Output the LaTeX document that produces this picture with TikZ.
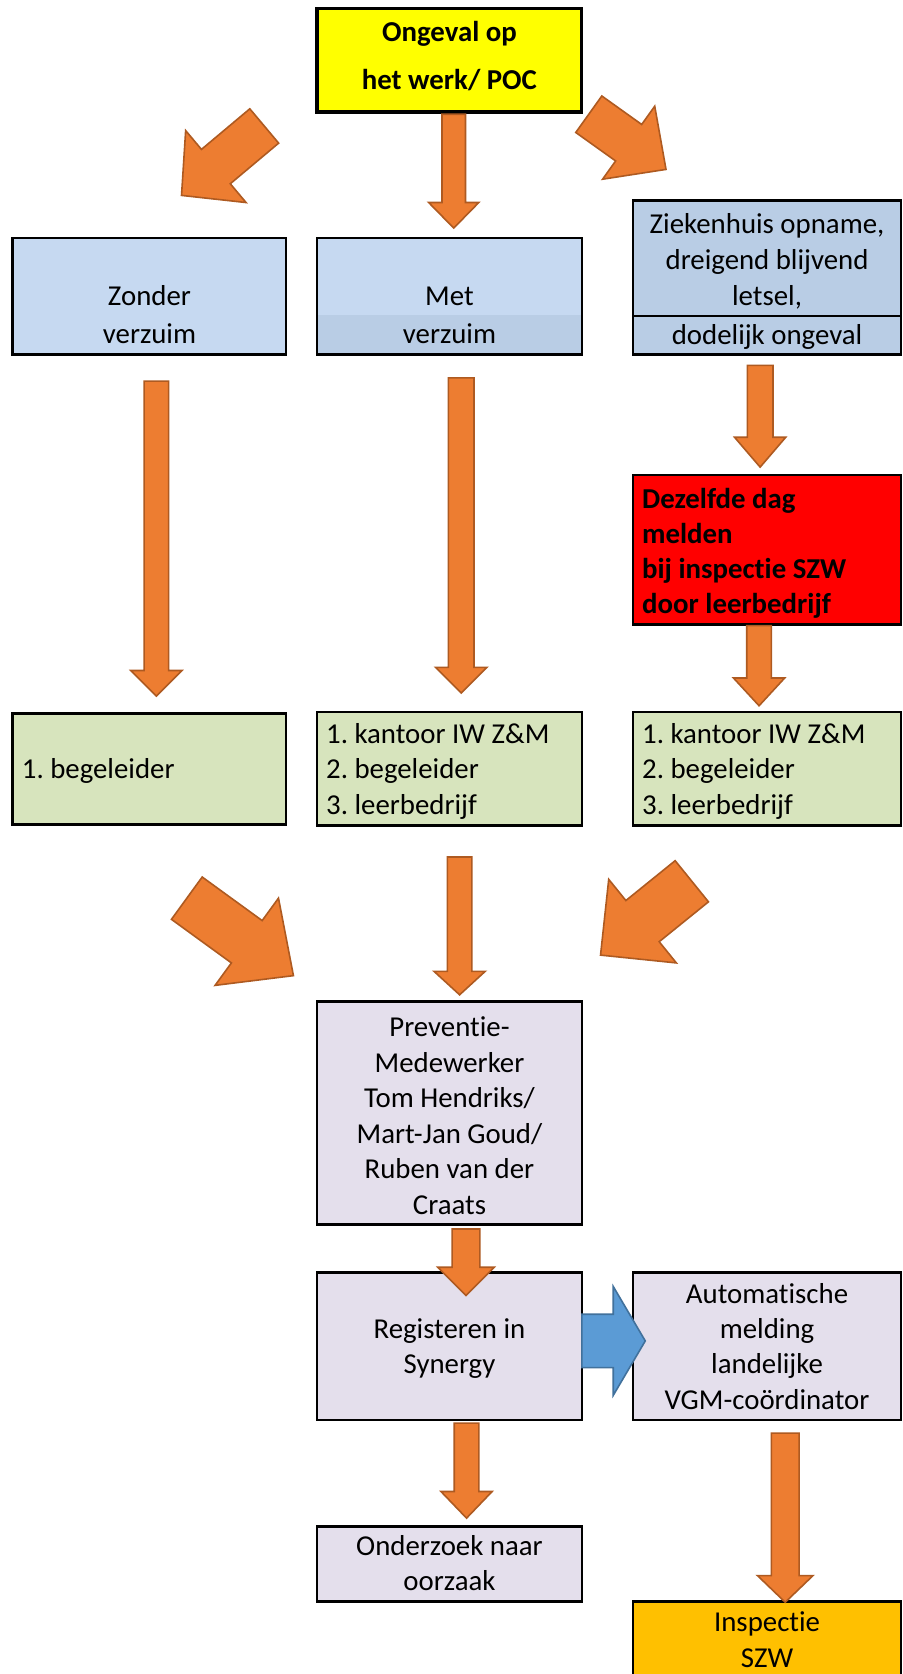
\documentclass[tikz,border=0pt]{standalone}
\usepackage{fontspec}
\setmainfont{Carlito}[Ligatures=NoCommon]
\frenchspacing
\usetikzlibrary{calc}
\definecolor{geel}{HTML}{FFFF00}
\definecolor{lichtblauw}{HTML}{C6D9F1}
\definecolor{donkerblauw}{HTML}{B9CDE5}
\definecolor{rood}{HTML}{FF0000}
\definecolor{groen}{HTML}{D7E4BD}
\definecolor{lila}{HTML}{E4DFEC}
\definecolor{oranje}{HTML}{ED7D31}
\definecolor{oranjerand}{HTML}{AE5A21}
\definecolor{blauwpijl}{HTML}{5B9BD5}
\definecolor{blauwrand}{HTML}{41719C}
\definecolor{oker}{HTML}{FFC000}
% first line height, pushes the text down in its box
\newcommand{\hoog}[1]{\rule{0pt}{#1}}
% block arrow: [style]{tail}{tip}{shaft width}{head width}{head length}
\newcommand{\blockarrow}[6][oranjepijl]{%
  \draw[#1] let \p1=(#2), \p2=(#3), \n1={atan2(\y2-\y1,\x2-\x1)}, \n2={veclen(\x2-\x1,\y2-\y1)} in
    [shift={(\p1)},rotate=\n1] (0,-#4/2) -- (\n2-#6,-#4/2) -- (\n2-#6,-#5/2) -- (\n2,0)
    -- (\n2-#6,#5/2) -- (\n2-#6,#4/2) -- (0,#4/2) -- cycle;}
\tikzset{
    kader/.style={draw, line width=2.5pt, inner sep=0pt, outer sep=0pt, align=center,
        font=\fontsize{27}{33}\selectfont,
        execute at end node={\rule[-9.9pt]{0pt}{33pt}}},
    linkskader/.style={kader, align=flush left, inner xsep=8.5pt, text width=#1},
    oranjepijl/.style={fill=oranje, draw=oranjerand, line width=1.5pt},
    blauwepijl/.style={fill=blauwpijl, draw=blauwrand, line width=1.5pt},
}
\begin{document}
\begin{tikzpicture}[x=1pt,y=-1pt]
\useasboundingbox[fill=white] (0,0) rectangle (845,1568);
% top
\node[kader, fill=geel, line width=3pt, font=\bfseries\fontsize{27}{45}\selectfont,
    minimum width=248pt, minimum height=97pt] (ongeval) at (421,56.5) {Ongeval op\\het werk/ POC};
% first row
\node[kader, fill=lichtblauw, font=\fontsize{27}{36}\selectfont,
    minimum width=256pt, minimum height=105pt] (zonder) at (140,277.5) {\hoog{27pt}\\Zonder\\verzuim};
\node[kader, fill=lichtblauw, font=\fontsize{27}{36}\selectfont,
    path picture={\fill[donkerblauw] ($(path picture bounding box.south west)+(0,-37)$) rectangle (path picture bounding box.south east);},
    minimum width=248pt, minimum height=105pt] (met) at (421,277.5) {\hoog{27pt}\\Met\\verzuim};
\node[kader, fill=donkerblauw, font=\fontsize{27}{34}\selectfont,
    minimum width=251pt, minimum height=140pt] (ziekenhuis) at (718.5,260) {\hoog{30.5pt}Ziekenhuis opname,\\dreigend blijvend\\letsel,\\[2pt]dodelijk ongeval};
\draw[line width=1.5pt] ($(ziekenhuis.south west)+(0,-36)$) -- ($(ziekenhuis.south east)+(0,-36)$);
\node[linkskader=234pt, fill=rood, font=\bfseries\fontsize{27}{33}\selectfont,
    minimum height=136pt] (dezelfde) at (718.5,515) {\hoog{31pt}Dezelfde dag\\melden\\bij inspectie SZW\\door leerbedrijf};
% who to inform
\node[linkskader=239pt, fill=groen, minimum height=104pt] (groenlinks) at (140,720) {\hoog{29pt}1. begeleider};
\node[linkskader=231pt, fill=groen, font=\fontsize{27}{33.5}\selectfont,
    minimum height=104pt] (groenmidden) at (421,720) {\hoog{29pt}1. kantoor IW Z\&M\\2. begeleider\\3. leerbedrijf};
\node[linkskader=234pt, fill=groen, font=\fontsize{27}{33.5}\selectfont,
    minimum height=104pt] (groenrechts) at (718.5,720) {\hoog{29pt}1. kantoor IW Z\&M\\2. begeleider\\3. leerbedrijf};
% lower part
\node[kader, fill=lila, font=\fontsize{27}{33.2}\selectfont,
    minimum width=248pt, minimum height=205pt] (preventie) at (421,1042.5) {\hoog{33.5pt}Preventie-\\Medewerker\\Tom Hendriks/\\Mart-Jan Goud/\\Ruben van der\\Craats};
\node[kader, fill=lila, minimum width=248pt, minimum height=138pt] (registeren) at (421,1261) {\hoog{28.7pt}Registeren in\\Synergy};
\node[kader, fill=lila, minimum width=251pt, minimum height=138pt] (automatisch) at (718.5,1261) {\hoog{28.5pt}Automatische\\melding\\landelijke\\VGM-coördinator};
\node[kader, fill=lila, minimum width=248pt, minimum height=70pt] (onderzoek) at (421,1465) {\hoog{26.5pt}Onderzoek naar\\oorzaak};
\node[kader, fill=oker, minimum width=251pt, minimum height=75pt] (inspectie) at (718.5,1537.5) {\hoog{25pt}Inspectie\\SZW};
% arrows
\blockarrow{$(ongeval.south)+(4,2)$}{$(met.north)+(4,-9.4)$}{22}{47}{24}
\blockarrow{$(ongeval.south west)+(-49.5,13)$}{$(zonder.north)+(30,-40)$}{42}{88}{42}
\blockarrow{$(ongeval.south east)+(6.5,2)$}{$(ziekenhuis.north west)+(31,-29)$}{42}{84}{43}
\blockarrow{$(zonder.south)+(6.5,25)$}{$(groenlinks.north)+(6.5,-16)$}{23}{48}{24}
\blockarrow{$(met.south)+(11,22)$}{$(groenmidden.north)+(11,-18)$}{24}{48}{24}
\blockarrow{$(ziekenhuis.south)+(-6.5,10)$}{$(dezelfde.north)+(-6.5,-7.5)$}{24}{48}{28}
\blockarrow{$(dezelfde.south)+(-7.5,1)$}{$(groenrechts.north)+(-7.5,-6)$}{23}{48}{26}
\blockarrow{$(groenlinks.south)+(35,69.3)$}{$(preventie.north west)+(-22.1,-23.9)$}{49}{101}{54}
\blockarrow{$(groenmidden.south)+(9.5,29.8)$}{$(preventie.north)+(9.5,-6)$}{23}{48}{22}
\blockarrow{$(groenrechts.south)+(-70.5,52.5)$}{$(preventie.north east)+(17.3,-43)$}{49.6}{100.7}{50.6}
\blockarrow{$(preventie.south)+(15.5,4)$}{$(registeren.north)+(15.5,21.5)$}{26}{53}{26.5}
\blockarrow[blauwepijl]{$(registeren.east)+(0,-5)$}{$(automatisch.west)+(11.4,-5)$}{50}{102}{30}
\blockarrow{$(registeren.south)+(16,3)$}{$(onderzoek.north)+(16,-8)$}{23}{48}{25}
\blockarrow{$(automatisch.south)+(17,12.4)$}{$(inspectie.north)+(17,0.8)$}{26}{52}{25}
\end{tikzpicture}
\end{document}
